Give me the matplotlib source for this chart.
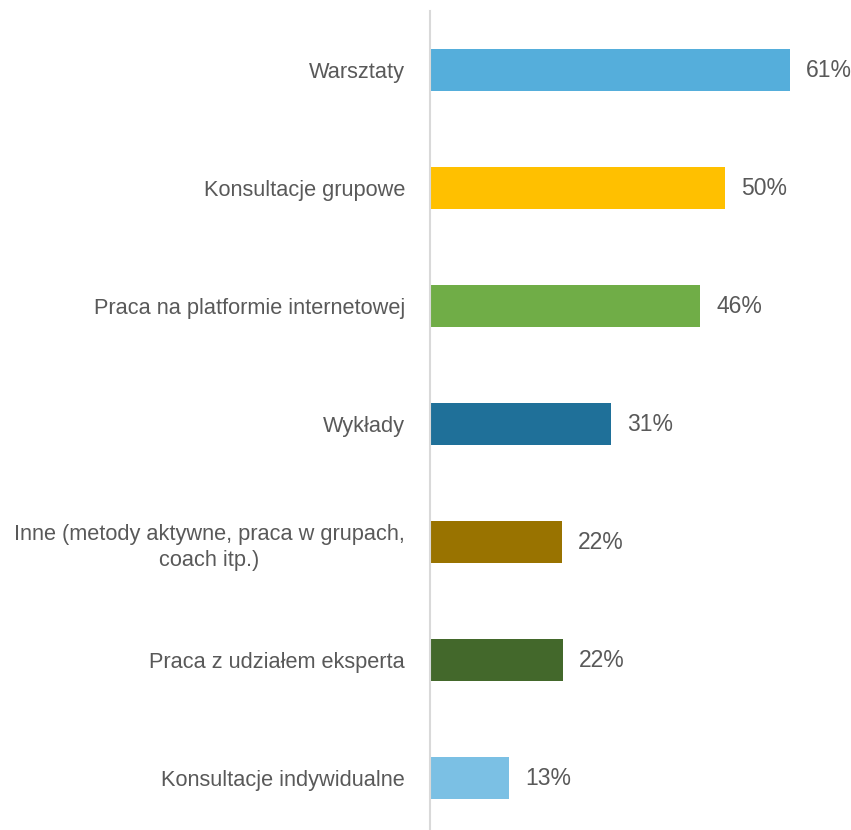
import matplotlib.pyplot as plt

# categories top to bottom
categories = [
    "Warsztaty",
    "Konsultacje grupowe",
    "Praca na platformie internetowej",
    "Wykłady",
    "Inne (metody aktywne, praca w grupach,\ncoach itp.)",
    "Praca z udziałem eksperta",
    "Konsultacje indywidualne",
]
values = [61.0, 50.0, 45.8, 30.7, 22.4, 22.5, 13.4]
labels = ["61%", "50%", "46%", "31%", "22%", "22%", "13%"]
colors = ["#55AEDB", "#FFC000", "#70AD47", "#1F7099", "#997300", "#43682B", "#7BC0E4"]

plt.rcParams['font.family'] = ['Liberation Sans Narrow', 'Liberation Sans', 'DejaVu Sans']
text_color = "#595959"

fig = plt.figure(figsize=(8.51, 8.30), dpi=100)
ax = fig.add_axes([430/851, -7/830, 421/851, 826/830])

ypos = list(range(len(categories)))
ax.barh(ypos, values, height=0.356, color=colors)

# value labels
for y, v, lab in zip(ypos, values, labels):
    ax.text(v + 2.7, y, lab, va='center', ha='left', fontsize=16.5, color=text_color)

ax.set_yticks(ypos)
ax.set_yticklabels(categories, fontsize=15.7, color=text_color)
ax.tick_params(axis='y', length=0, pad=18)
for t in ax.get_yticklabels():
    t.set_multialignment('center')
    t.set_linespacing(1.35)
ax.set_ylim(len(categories) - 0.5, -0.5)
ax.set_xlim(0, 71.3)
ax.set_xticks([])

for s in ['top', 'right', 'bottom']:
    ax.spines[s].set_visible(False)
ax.spines['left'].set_color('#D9D9D9')
ax.spines['left'].set_linewidth(1.5)

plt.savefig("out.png", dpi=100)
